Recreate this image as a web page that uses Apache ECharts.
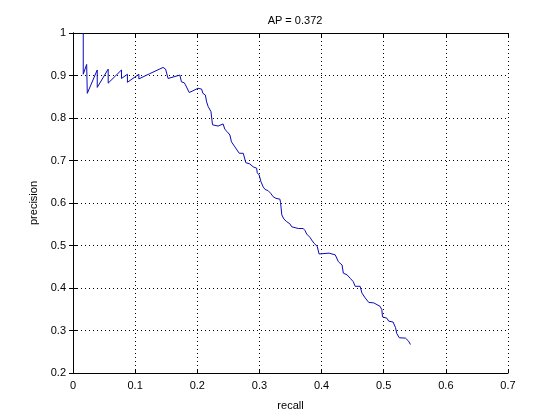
<!DOCTYPE html>
<html>
<head>
<meta charset="utf-8">
<script src="https://cdn.jsdelivr.net/npm/echarts@6/dist/echarts.min.js"></script>
<style>html,body{margin:0;padding:0;background:#fff}#c{width:560px;height:420px}</style>
</head>
<body>
<div id="c"></div>
<script>
const titleText = 'AP = 0.372';
const xName = 'recall';
const yName = 'precision';
const recall = [0.0165,0.0165,0.022,0.023,0.039,0.039,0.0566,0.0566,0.078,0.078,0.0876,0.0876,0.106,0.106,0.123,0.145,0.149,0.153,0.172,0.1745,0.179,0.181,0.187,0.193,0.201,0.207,0.209,0.213,0.215,0.2175,0.222,0.2245,0.2335,0.2415,0.2445,0.248,0.2525,0.255,0.258,0.2605,0.263,0.2675,0.274,0.2765,0.278,0.2845,0.290,0.2955,0.2965,0.2995,0.3025,0.306,0.309,0.314,0.318,0.322,0.3265,0.333,0.334,0.336,0.3395,0.344,0.349,0.352,0.3625,0.3705,0.3735,0.376,0.3815,0.384,0.388,0.393,0.396,0.412,0.422,0.427,0.433,0.435,0.441,0.446,0.451,0.454,0.462,0.465,0.470,0.476,0.484,0.494,0.497,0.498,0.505,0.508,0.515,0.519,0.521,0.525,0.535,0.540,0.543];
const precision = [1.0,0.903,0.926,0.858,0.913,0.872,0.915,0.882,0.913,0.893,0.903,0.884,0.903,0.892,0.904,0.919,0.915,0.893,0.901,0.885,0.883,0.878,0.860,0.864,0.870,0.868,0.858,0.854,0.838,0.827,0.815,0.784,0.781,0.786,0.773,0.768,0.760,0.744,0.740,0.732,0.729,0.717,0.717,0.713,0.695,0.692,0.685,0.682,0.671,0.666,0.650,0.638,0.632,0.629,0.623,0.615,0.611,0.609,0.601,0.572,0.562,0.556,0.551,0.544,0.540,0.540,0.535,0.527,0.519,0.513,0.505,0.498,0.480,0.482,0.478,0.462,0.454,0.435,0.431,0.423,0.415,0.404,0.404,0.388,0.377,0.366,0.365,0.357,0.349,0.332,0.329,0.322,0.320,0.307,0.293,0.283,0.282,0.275,0.267];

const pts = recall.map((r,i)=>[r,precision[i]]);
const font = 'Liberation Sans, Arial, Helvetica, sans-serif';
const lbl = {color:'#000', fontFamily:font, fontSize:11};
const frameLine = {show:true, lineStyle:{color:'#000', width:1}};
const tick = {show:true, inside:true, length:4, lineStyle:{color:'#000'}};
const grid = {show:true, lineStyle:{color:'#000', type:[1,3], width:1}};

const chart = echarts.init(document.getElementById('c'), null, {renderer:'canvas'});
chart.setOption({
  animation:false,
  backgroundColor:'#fff',
  title:{text:titleText, left:290, top:10, textAlign:'center',
    textStyle:{fontFamily:font, fontSize:11, fontWeight:'normal', color:'#000'}},
  grid:{left:73, right:52, top:33, bottom:47, containLabel:false},
  xAxis:[
    {type:'value', min:0, max:0.7, interval:0.1, position:'bottom',
     axisLine:frameLine, axisTick:tick, splitLine:grid,
     axisLabel:Object.assign({margin:7}, lbl),
     name:xName, nameLocation:'middle', nameGap:27, nameTextStyle:lbl},
    {type:'value', min:0, max:0.7, interval:0.1, position:'top',
     axisLine:frameLine, axisTick:tick, splitLine:{show:false}, axisLabel:{show:false}}
  ],
  yAxis:[
    {type:'value', min:0.2, max:1, interval:0.1, position:'left',
     axisLine:frameLine, axisTick:tick, splitLine:grid,
     axisLabel:Object.assign({margin:7}, lbl),
     name:yName, nameLocation:'middle', nameGap:30, nameTextStyle:lbl},
    {type:'value', min:0.2, max:1, interval:0.1, position:'right',
     axisLine:frameLine, axisTick:tick, splitLine:{show:false}, axisLabel:{show:false}}
  ],
  series:[{type:'line', data:pts, showSymbol:false, symbol:'none',
    lineStyle:{color:'#0a0ab8', width:1}, xAxisIndex:0, yAxisIndex:0}]
});
</script>
</body>
</html>
